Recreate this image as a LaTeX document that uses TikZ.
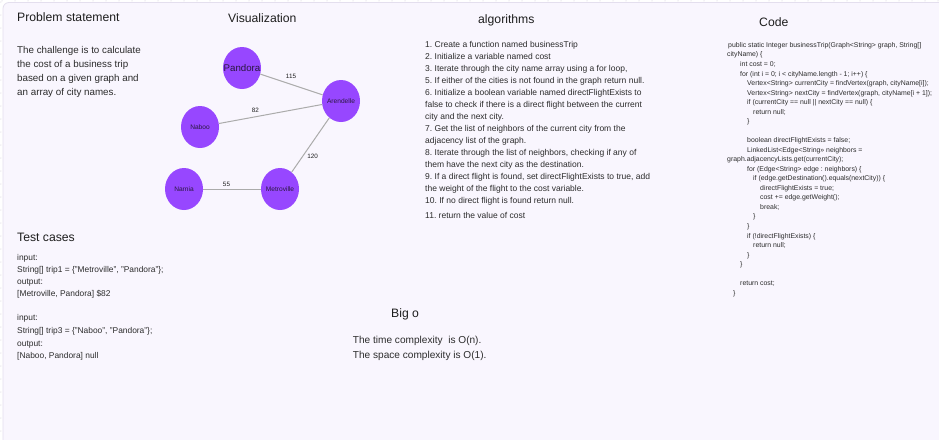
\documentclass[tikz,border=0pt]{standalone}
\usepackage{fontspec}
\setmainfont{Liberation Sans}
\usetikzlibrary{shapes.geometric}
\definecolor{bgframe}{HTML}{F9F6FE}
\definecolor{frameline}{HTML}{E4DFEE}
\definecolor{ink}{HTML}{1E1E1E}
\definecolor{bodyink}{HTML}{2C2C2C}
\definecolor{cityink}{HTML}{2A1840}
\definecolor{city}{HTML}{9747FF}
\definecolor{edgegray}{HTML}{ABABAB}
\definecolor{griddot}{HTML}{CFCBD8}
\newcommand\fs[1]{\fontsize{#1pt}{#1pt}\selectfont}
\newcommand\tline[5]{\node[#1] (#2) at (#3,#4) {#5};}
\frenchspacing
\begin{document}
\begin{tikzpicture}[x=1pt,y=-1pt,
  title/.style={font=\fs{12.2}, text=ink, inner sep=0, anchor=base west},
  prob/.style={font=\fs{9.8}, text=bodyink, inner sep=0, anchor=base west},
  alg/.style={font=\fs{8.5}, text=bodyink, inner sep=0, anchor=base west},
  code/.style={font=\fs{6.9}, text=bodyink, inner sep=0, anchor=base west},
  tcase/.style={font=\fs{8.4}, text=bodyink, inner sep=0, anchor=base west},
  bigo/.style={font=\fs{10.1}, text=bodyink, inner sep=0, anchor=base west},
  citynode/.style={ellipse, fill=city, minimum width=38pt, minimum height=42pt, inner xsep=-9pt, inner ysep=0pt, text=cityink, font=\fs{6.6}},
  edgeline/.style={draw=edgegray, line width=1pt},
  elabel/.style={font=\fs{6.3}, text=ink, inner sep=0}]
\useasboundingbox (0,0) rectangle (939,439);
\fill[white] (0,0) rectangle (939,439);
\begin{scope}
\clip (0,0) rectangle (939,439);
\foreach \i in {0,...,72} \fill[griddot] (2+13*\i,0.8) circle (0.5);
\foreach \i in {0,...,34} \fill[griddot] (0.8,2+13*\i) circle (0.5);
\draw[frameline, fill=bgframe, line width=0.8pt, rounded corners=6pt] (3,2.5) rectangle (980,480);
\end{scope}

% titles
\tline{title}{tProb}{17}{21}{Problem statement}
\tline{title}{tVis}{228}{22.7}{Visualization}
\tline{title}{tAlg}{478}{23.5}{algorithms}
\tline{title}{tCode}{759}{26.5}{Code}
\tline{title}{tTest}{17}{241.5}{Test cases}
\tline{title}{tBig}{391}{317.5}{Big o}

% problem statement
\tline{prob}{p1}{17}{53.5}{The challenge is to calculate}
\tline{prob}{p2}{17}{67.5}{the cost of a business trip}
\tline{prob}{p3}{17}{81.5}{based on a given graph and}
\tline{prob}{p4}{17}{95.5}{an array of city names.}

% graph
\node[citynode, font=\fs{9.7}] (pan) at (242,68) {Pandora};
\node[citynode] (are) at (341,101) {Arendelle};
\node[citynode] (nab) at (200,127) {Naboo};
\node[citynode] (nar) at (184,189) {Narnia};
\node[citynode] (met) at (280,189) {Metroville};
\draw[edgeline] (pan) -- (are);
\draw[edgeline] (nab) -- (are);
\draw[edgeline] (are) -- (met);
\draw[edgeline] (nar) -- (met);
\node[elabel] (l115) at (291,76.7) {115};
\node[elabel] (l82) at (255.3,110.7) {82};
\node[elabel] (l120) at (312.7,156) {120};
\node[elabel] (l55) at (226.5,184.3) {55};

% algorithms
\tline{alg}{a1}{425}{47}{1. Create a function named businessTrip}
\tline{alg}{a2}{425}{59}{2. Initialize a variable named cost}
\tline{alg}{a3}{425}{71}{3. Iterate through the city name array using a for loop,}
\tline{alg}{a4}{425}{83}{5. If either of the cities is not found in the graph return null.}
\tline{alg}{a5}{425}{95}{6. Initialize a boolean variable named directFlightExists to}
\tline{alg}{a6}{425}{107}{false to check if there is a direct flight between the current}
\tline{alg}{a7}{425}{119}{city and the next city.}
\tline{alg}{a8}{425}{131}{7. Get the list of neighbors of the current city from the}
\tline{alg}{a9}{425}{143}{adjacency list of the graph.}
\tline{alg}{a10}{425}{155}{8. Iterate through the list of neighbors, checking if any of}
\tline{alg}{a11}{425}{167}{them have the next city as the destination.}
\tline{alg}{a12}{425}{179}{9. If a direct flight is found, set directFlightExists to true, add}
\tline{alg}{a13}{425}{191}{the weight of the flight to the cost variable.}
\tline{alg}{a14}{425}{203}{10. If no direct flight is found return null.}
\tline{alg}{a15}{425}{218}{11. return the value of cost}

% code
\tline{code}{c1}{728}{47.4}{public static Integer businessTrip(Graph<String> graph, String[]}
\tline{code}{c2}{727}{56.9}{cityName) \{}
\tline{code}{c3}{740}{66.4}{int cost = 0;}
\tline{code}{c4}{740}{76}{for (int i = 0; i < cityName.length - 1; i++) \{}
\tline{code}{c5}{747}{85.5}{Vertex<String> currentCity = findVertex(graph, cityName[i]);}
\tline{code}{c6}{747}{95}{Vertex<String> nextCity = findVertex(graph, cityName[i + 1]);}
\tline{code}{c7}{747}{104.6}{if (currentCity == null || nextCity == null) \{}
\tline{code}{c8}{753}{114.1}{return null;}
\tline{code}{c9}{747}{123.6}{\}}
\tline{code}{c11}{747}{142.7}{boolean directFlightExists = false;}
\tline{code}{c12}{747}{152.2}{LinkedList<Edge<String>> neighbors =}
\tline{code}{c13}{727}{161.7}{graph.adjacencyLists.get(currentCity);}
\tline{code}{c14}{747}{171.3}{for (Edge<String> edge : neighbors) \{}
\tline{code}{c15}{753}{180.8}{if (edge.getDestination().equals(nextCity)) \{}
\tline{code}{c16}{760}{190.3}{directFlightExists = true;}
\tline{code}{c17}{760}{199.9}{cost += edge.getWeight();}
\tline{code}{c18}{760}{209.4}{break;}
\tline{code}{c19}{753}{218.9}{\}}
\tline{code}{c20}{747}{228.4}{\}}
\tline{code}{c21}{747}{238}{if (!directFlightExists) \{}
\tline{code}{c22}{753}{247.5}{return null;}
\tline{code}{c23}{747}{257}{\}}
\tline{code}{c24}{740}{266.6}{\}}
\tline{code}{c26}{740}{285.6}{return cost;}
\tline{code}{c27}{733}{295.1}{\}}

% test cases
\tline{tcase}{t1}{17}{260}{input:}
\tline{tcase}{t2}{17}{272}{String[] trip1 = \{"Metroville", "Pandora"\};}
\tline{tcase}{t3}{17}{284}{output:}
\tline{tcase}{t4}{17}{296}{[Metroville, Pandora] \$82}
\tline{tcase}{t5}{17}{320}{input:}
\tline{tcase}{t6}{17}{333}{String[] trip3 = \{"Naboo", "Pandora"\};}
\tline{tcase}{t7}{17}{346}{output:}
\tline{tcase}{t8}{17}{358}{[Naboo, Pandora] null}

% big o
\tline{bigo}{b1}{352.7}{343.5}{The time complexity\ \ is O(n).}
\tline{bigo}{b2}{352.7}{358.5}{The space complexity is O(1).}
\end{tikzpicture}
\end{document}
